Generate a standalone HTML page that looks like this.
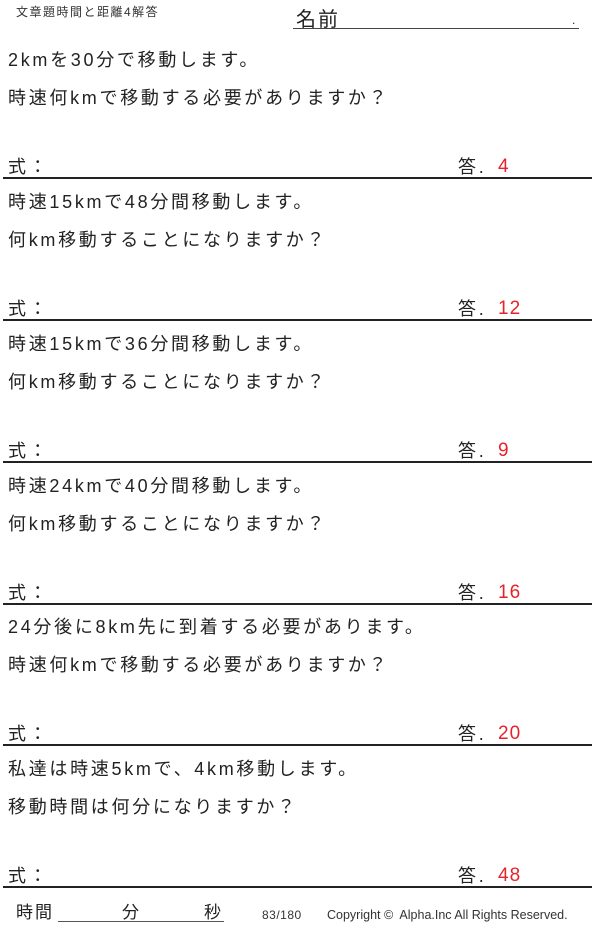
<!DOCTYPE html>
<html><head><meta charset="utf-8"><style>
body{margin:0;width:600px;height:928px;background:#fff;position:relative;overflow:hidden;font-family:"Liberation Sans","Noto Sans CJK JP",sans-serif;color:#222}
.a{position:absolute;white-space:nowrap;line-height:1}
.t{font-size:18px;letter-spacing:2.7px}
.hr{position:absolute;left:3px;width:589px;height:2px;background:#222}
.r{color:#e8222a;font-size:19px;letter-spacing:1px}
</style></head><body>
<div class="a" style="left:16px;top:6px;font-size:12px;letter-spacing:1.5px;color:#333">文章題時間と距離4解答</div>
<div class="a" style="left:296px;top:10px;font-size:20px;letter-spacing:2px">名前</div>
<div style="position:absolute;left:293px;top:28px;width:286px;height:1px;background:#444"></div>
<div class="a" style="left:572px;top:14px;font-size:12px">.</div>

<div style="position:absolute;left:0;top:0;width:600px">
<div class="a t" style="left:8px;top:51px">2kmを30分で移動します。</div>
<div class="a t" style="left:8px;top:89px">時速何kmで移動する必要がありますか？</div>
<div class="a t" style="left:8px;top:158px">式：</div>
<div class="a t" style="left:458px;top:158px">答.</div>
<div class="a r" style="left:498px;top:157px">4</div>
<div class="hr" style="top:177px"></div></div>

<div style="position:absolute;left:0;top:142px;width:600px">
<div class="a t" style="left:8px;top:51px">時速15kmで48分間移動します。</div>
<div class="a t" style="left:8px;top:89px">何km移動することになりますか？</div>
<div class="a t" style="left:8px;top:158px">式：</div>
<div class="a t" style="left:458px;top:158px">答.</div>
<div class="a r" style="left:498px;top:157px">12</div>
<div class="hr" style="top:177px"></div></div>

<div style="position:absolute;left:0;top:284px;width:600px">
<div class="a t" style="left:8px;top:51px">時速15kmで36分間移動します。</div>
<div class="a t" style="left:8px;top:89px">何km移動することになりますか？</div>
<div class="a t" style="left:8px;top:158px">式：</div>
<div class="a t" style="left:458px;top:158px">答.</div>
<div class="a r" style="left:498px;top:157px">9</div>
<div class="hr" style="top:177px"></div></div>

<div style="position:absolute;left:0;top:426px;width:600px">
<div class="a t" style="left:8px;top:51px">時速24kmで40分間移動します。</div>
<div class="a t" style="left:8px;top:89px">何km移動することになりますか？</div>
<div class="a t" style="left:8px;top:158px">式：</div>
<div class="a t" style="left:458px;top:158px">答.</div>
<div class="a r" style="left:498px;top:157px">16</div>
<div class="hr" style="top:177px"></div></div>

<div style="position:absolute;left:0;top:567px;width:600px">
<div class="a t" style="left:8px;top:51px">24分後に8km先に到着する必要があります。</div>
<div class="a t" style="left:8px;top:89px">時速何kmで移動する必要がありますか？</div>
<div class="a t" style="left:8px;top:158px">式：</div>
<div class="a t" style="left:458px;top:158px">答.</div>
<div class="a r" style="left:498px;top:157px">20</div>
<div class="hr" style="top:177px"></div></div>

<div style="position:absolute;left:0;top:709px;width:600px">
<div class="a t" style="left:8px;top:51px">私達は時速5kmで、4km移動します。</div>
<div class="a t" style="left:8px;top:89px">移動時間は何分になりますか？</div>
<div class="a t" style="left:8px;top:158px">式：</div>
<div class="a t" style="left:458px;top:158px">答.</div>
<div class="a r" style="left:498px;top:157px">48</div>
<div class="hr" style="top:177px"></div></div>

<div class="a" style="left:16px;top:904px;font-size:17px;letter-spacing:2px">時間</div>
<div style="position:absolute;left:58px;top:921px;width:166px;height:1px;background:#555"></div>
<div class="a" style="left:122px;top:904px;font-size:17px">分</div>
<div class="a" style="left:204px;top:904px;font-size:17px">秒</div>
<div class="a" style="left:262px;top:909px;font-size:12px;color:#333;letter-spacing:0.5px">83/180</div>
<div class="a" style="left:327px;top:909px;font-size:12.5px;color:#333">Copyright ©&nbsp; Alpha.Inc All Rights Reserved.</div>
</body></html>
